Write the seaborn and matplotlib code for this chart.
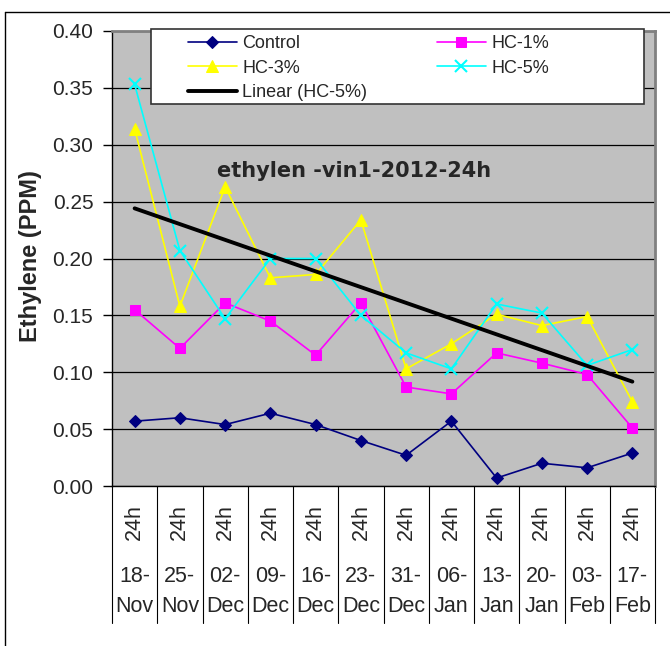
import numpy as np
import pandas as pd
import matplotlib
matplotlib.use("Agg")
import matplotlib.pyplot as plt
import matplotlib.transforms as mtransforms
from matplotlib.lines import Line2D
from matplotlib.patches import Rectangle
import seaborn as sns

# Sampling dates (day / month) and sampling interval
days = ["18-", "25-", "02-", "09-", "16-", "23-", "31-", "06-", "13-", "20-", "03-", "17-"]
months = ["Nov", "Nov", "Dec", "Dec", "Dec", "Dec", "Dec", "Jan", "Jan", "Jan", "Feb", "Feb"]
hours = ["24h"] * 12

# Ethylene concentration (PPM) per treatment
control = [0.057, 0.060, 0.054, 0.064, 0.054, 0.040, 0.027, 0.057, 0.007, 0.020, 0.016, 0.029]
hc1 = [0.155, 0.121, 0.161, 0.145, 0.115, 0.161, 0.087, 0.081, 0.117, 0.108, 0.098, 0.051]
hc3 = [0.314, 0.158, 0.263, 0.183, 0.186, 0.234, 0.103, 0.125, 0.151, 0.141, 0.149, 0.074]
hc5 = [0.353, 0.207, 0.147, 0.200, 0.200, 0.150, 0.117, 0.103, 0.160, 0.152, 0.106, 0.120]

yticks = [0.00, 0.05, 0.10, 0.15, 0.20, 0.25, 0.30, 0.35, 0.40]

sns.set_style("ticks")
plt.rcParams["font.family"] = ["Liberation Sans", "DejaVu Sans"]

W, H = 670, 646
fig = plt.figure(figsize=(W / 100, H / 100), dpi=100)
fig.patch.set_facecolor("white")

# plot area in pixel terms
L, R, T, B = 112, 655, 31, 486
ax = fig.add_axes([L / W, 1 - B / H, (R - L) / W, (B - T) / H])
ax.set_facecolor("#C0C0C0")

pos = np.arange(len(days))
df = pd.DataFrame({"pos": pos, "Control": control, "HC-1%": hc1, "HC-3%": hc3, "HC-5%": hc5})

series = [
    ("Control", "#000080", "D", 6.5, 0.75),
    ("HC-1%", "#FF00FF", "s", 7.0, 0.75),
    ("HC-3%", "#FFFF00", "^", 8.5, 0.75),
    ("HC-5%", "#00FFFF", "x", 8.5, 1.5),
]
for name, color, marker, ms, mew in series:
    sns.lineplot(data=df, x="pos", y=name, ax=ax, color=color, lw=1.2,
                 marker=marker, markersize=ms, markeredgecolor=color,
                 markerfacecolor=color, markeredgewidth=mew, label=name)

# linear trend of HC-5%
sns.regplot(data=df, x="pos", y="HC-5%", ax=ax, scatter=False, ci=None,
            truncate=True, color="black", line_kws={"lw": 2.8},
            label="Linear (HC-5%)")

ax.set_xlim(-0.5, len(days) - 0.5)
ax.set_ylim(0, 0.40)
ax.set_yticks(yticks)
ax.set_yticklabels([f"{v:.2f}" for v in yticks], fontsize=15)
ax.tick_params(axis="y", direction="out", length=6.5, width=1, color="black", pad=7)
ax.yaxis.grid(True, color="black", lw=0.9)
ax.set_axisbelow(True)

# category axis: rotated interval labels, then dates below
ax.set_xticks(pos)
ax.set_xticklabels(hours, rotation=90, fontsize=15.5, va="top", ha="center")
ax.tick_params(axis="x", length=0, pad=13)
ax.set_xlabel("")

trans = mtransforms.blended_transform_factory(ax.transData, ax.transAxes)
y_day = -(577 - B) / (B - T)
y_mon = -(607 - B) / (B - T)
for i in pos:
    ax.text(i, y_day, days[i], transform=trans, ha="center", va="center", fontsize=15.5)
    ax.text(i, y_mon, months[i], transform=trans, ha="center", va="center", fontsize=15.5)

y_sep = -(623 - B) / (B - T)
for b in np.arange(len(days) + 1) - 0.5:
    ax.plot([b, b], [0, y_sep], transform=trans, clip_on=False, color="black", lw=0.8)

ax.set_ylabel("Ethylene (PPM)", fontsize=17, fontweight="bold")
ax.yaxis.set_label_coords((42 - L) / (R - L), (B - 256) / (B - T))

for s in ["top", "right"]:
    ax.spines[s].set_color("#808080")
    ax.spines[s].set_linewidth(2)
for s in ["left", "bottom"]:
    ax.spines[s].set_color("black")
    ax.spines[s].set_linewidth(1)

ax.text(0.445, (B - 171) / (B - T), "ethylen -vin1-2012-24h", transform=ax.transAxes,
        ha="center", va="center", fontsize=15, fontweight="bold", family="DejaVu Sans")

# legend box
lx0, lx1, ly0, ly1 = 151, 644, 29, 104
ax.add_patch(Rectangle(((lx0 - L) / (R - L), (B - ly1) / (B - T)),
                       (lx1 - lx0) / (R - L), (ly1 - ly0) / (B - T),
                       transform=ax.transAxes, facecolor="white", edgecolor="#333333",
                       lw=1.2, zorder=4, clip_on=False))

handles, labels = ax.get_legend_handles_labels()
hmap = dict(zip(labels, handles))
leg_kw = dict(frameon=False, loc="upper left", fontsize=13, borderpad=0,
              borderaxespad=0, handlelength=2.7, handletextpad=0.3, labelspacing=0.42)
col1 = ["Control", "HC-3%", "Linear (HC-5%)"]
col2 = ["HC-1%", "HC-5%"]
leg1 = ax.legend([hmap[k] for k in col1], col1,
                 bbox_to_anchor=((188 - L) / (R - L), (B - 35) / (B - T)), **leg_kw)
ax.add_artist(leg1)
leg2 = ax.legend([hmap[k] for k in col2], col2,
                 bbox_to_anchor=((437 - L) / (R - L), (B - 35) / (B - T)), **leg_kw)
leg1.set_zorder(6)
leg2.set_zorder(6)

# outer chart border
fig.add_artist(Line2D([5 / W, 1], [1 - 12 / H, 1 - 12 / H], transform=fig.transFigure,
                      color="black", lw=1))
fig.add_artist(Line2D([5 / W, 5 / W], [0, 1 - 12 / H], transform=fig.transFigure,
                      color="black", lw=1))

fig.savefig("out.png", dpi=100)
